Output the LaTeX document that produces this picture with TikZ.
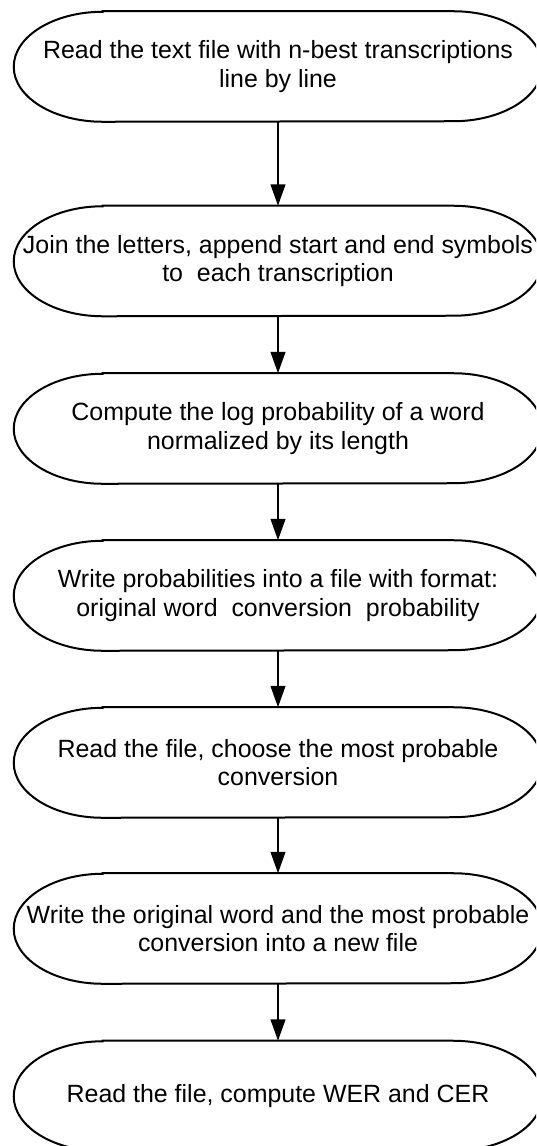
\documentclass[tikz,border=0pt]{standalone}
\usepackage{fontspec}
\setmainfont{Liberation Sans}
\usetikzlibrary{arrows.meta}
\tikzset{
  termbox/.style={minimum width=396pt, minimum height=82.5pt, inner sep=0pt, align=center,
    font=\fontsize{18.7}{21.2}\selectfont},
  outline/.style={line width=1.5pt},
  flow/.style={line width=1.5pt, -{Triangle[length=16pt,width=11pt]}}
}
\newcommand\termoutline[1]{%
  \draw[outline] ([xshift=66.75pt]#1.north west) -- ([xshift=-66.75pt]#1.north east)
    arc[start angle=90,end angle=-90,x radius=66.75pt,y radius=41.25pt]
    -- ([xshift=66.75pt]#1.south west)
    arc[start angle=270,end angle=90,x radius=66.75pt,y radius=41.25pt] -- cycle;}
\begin{document}
\begin{tikzpicture}
\useasboundingbox (0,0) rectangle (402pt,-859.5pt);
\clip (0,0) rectangle (402pt,-859.5pt);
\node[termbox] (s1) at (208.5pt,-49.875pt) {Read the text file with n-best transcriptions\\line by line};
\node[termbox] (s2) at (208.5pt,-195.75pt) {Join the letters, append start and end symbols\\to\ \ each transcription};
\node[termbox] (s3) at (208.5pt,-321.375pt) {Compute the log probability of a word\\normalized by its length};
\node[termbox] (s4) at (208.5pt,-446.625pt) {Write probabilities into a file with format:\\original word\ \ conversion\ \ probability};
\node[termbox] (s5) at (208.5pt,-571.875pt) {Read the file, choose the most probable\\conversion};
\node[termbox] (s6) at (208.5pt,-696.375pt) {Write the original word and the most probable\\conversion into a new file};
\node[termbox] (s7) at (208.5pt,-822pt) {Read the file, compute WER and CER};
\foreach \n in {s1,s2,s3,s4,s5,s6,s7} {\termoutline{\n}}
\draw[flow] (s1) -- (s2);
\draw[flow] (s2) -- (s3);
\draw[flow] (s3) -- (s4);
\draw[flow] (s4) -- (s5);
\draw[flow] (s5) -- (s6);
\draw[flow] (s6) -- (s7);
\end{tikzpicture}
\end{document}
